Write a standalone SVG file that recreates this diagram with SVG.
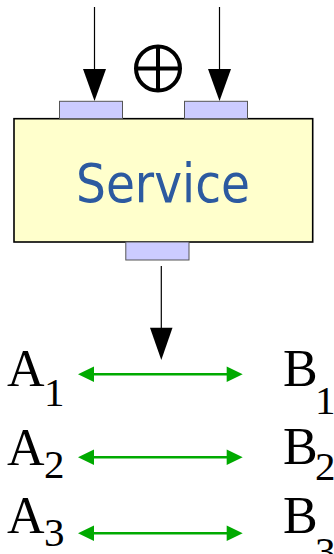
<svg xmlns="http://www.w3.org/2000/svg" width="334" height="554" viewBox="0 0 334 554">
  <style>
    .port { fill: #ccccff; stroke: #555555; stroke-width: 1; }
    .wire { stroke: #000000; stroke-width: 1.2; fill: none; }
    .head { fill: #000000; }
    .link { stroke: #00aa00; stroke-width: 2.5; fill: none; }
    .ghead { fill: #00aa00; }
    .lbl { font-family: "Liberation Serif", "Times New Roman", serif; fill: #000000; }
    .big { font-size: 52px; }
    .sub { font-size: 41px; }
  </style>

  <!-- service node with its three ports -->
  <g id="service">
    <rect x="14" y="118.7" width="298.7" height="123.3" fill="#ffffcc" stroke="#000000" stroke-width="1.6"/>
    <text x="163" y="201.7" text-anchor="middle" textLength="174" lengthAdjust="spacingAndGlyphs" font-family="'DejaVu Sans', 'Noto Sans', sans-serif" font-size="54" fill="#2c5aa0">Service</text>
  </g>
  <g id="port-in-left"><rect class="port" x="59.5" y="101.3" width="63" height="17.4"/></g>
  <g id="port-in-right"><rect class="port" x="184.5" y="101.3" width="63" height="17.4"/></g>
  <g id="port-out"><rect class="port" x="125.8" y="242" width="63.2" height="18"/></g>

  <!-- combination operator between the inputs -->
  <g id="oplus">
    <circle cx="158" cy="68.5" r="22" fill="none" stroke="#000000" stroke-width="4"/>
    <line x1="136" y1="68.5" x2="180" y2="68.5" stroke="#000000" stroke-width="4"/>
    <line x1="158" y1="46.5" x2="158" y2="90.5" stroke="#000000" stroke-width="4"/>
  </g>

  <!-- labels -->
  <g id="a1"><text class="lbl big" x="7" y="385.5">A</text><text class="lbl sub" x="44" y="405.7">1</text></g>
  <g id="a2"><text class="lbl big" x="7" y="464.5">A</text><text class="lbl sub" x="44" y="477.5">2</text></g>
  <g id="a3"><text class="lbl big" x="7" y="532.7">A</text><text class="lbl sub" x="44" y="546">3</text></g>
  <g id="b1"><text class="lbl big" x="283" y="385.5">B</text><text class="lbl sub" x="315" y="413.5">1</text></g>
  <g id="b2"><text class="lbl big" x="283" y="463.5">B</text><text class="lbl sub" x="315" y="480">2</text></g>
  <g id="b3"><text class="lbl big" x="283" y="532.5">B</text><text class="lbl sub" x="315" y="565">3</text></g>

  <!-- connectors -->
  <g id="connectors">
    <line class="wire" x1="94.5" y1="7" x2="94.5" y2="72"/>
    <polygon class="head" points="83,69 106,69 94.5,101"/>
    <line class="wire" x1="219.5" y1="7" x2="219.5" y2="72"/>
    <polygon class="head" points="208,69 231,69 219.5,101"/>
    <line class="wire" x1="161.3" y1="266" x2="161.3" y2="330"/>
    <polygon class="head" points="150,327.7 172.5,327.7 161.3,360"/>

    <line class="link" x1="90" y1="374.3" x2="230" y2="374.3"/>
    <polygon class="ghead" points="78,374.3 94,366.6 94,382"/>
    <polygon class="ghead" points="242.7,374.3 226.7,366.6 226.7,382"/>
    <line class="link" x1="90" y1="457.3" x2="230" y2="457.3"/>
    <polygon class="ghead" points="78,457.3 94,449.6 94,465"/>
    <polygon class="ghead" points="242.7,457.3 226.7,449.6 226.7,465"/>
    <line class="link" x1="90" y1="533.3" x2="230" y2="533.3"/>
    <polygon class="ghead" points="78,533.3 94,525.6 94,541"/>
    <polygon class="ghead" points="242.7,533.3 226.7,525.6 226.7,541"/>
  </g>
</svg>
